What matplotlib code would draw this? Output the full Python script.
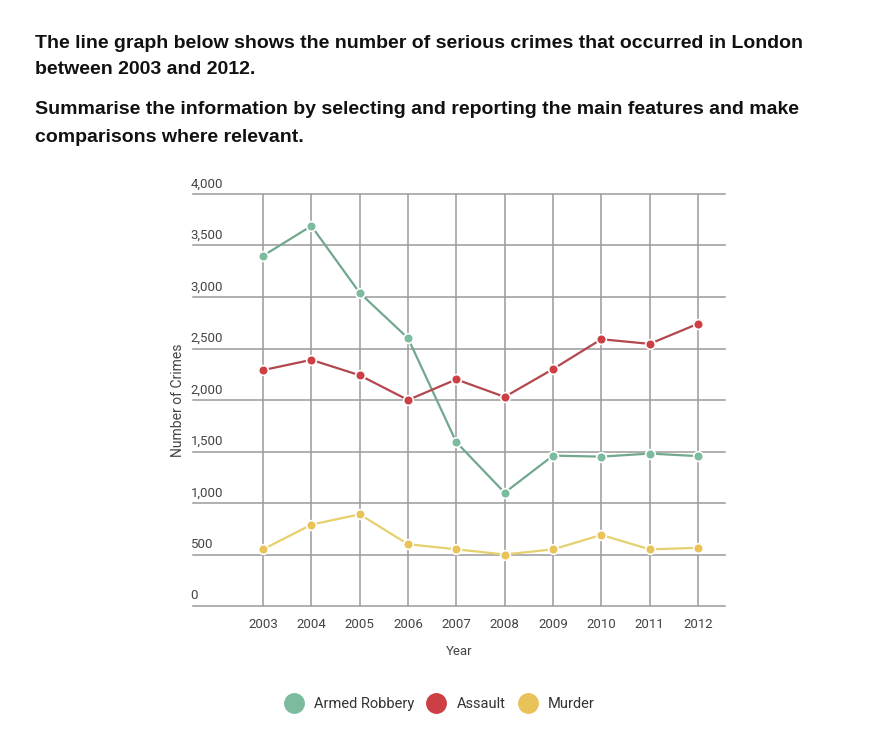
import matplotlib.pyplot as plt
from matplotlib.lines import Line2D

years = [2003, 2004, 2005, 2006, 2007, 2008, 2009, 2010, 2011, 2012]
armed_robbery = [3400, 3690, 3040, 2600, 1590, 1100, 1460, 1450, 1480, 1455]
assault = [2290, 2390, 2240, 2000, 2200, 2030, 2300, 2590, 2545, 2740]
murder = [550, 790, 890, 600, 550, 500, 550, 690, 550, 565]
y_ticks = [0, 500, 1000, 1500, 2000, 2500, 3000, 3500, 4000]

series = [("Armed Robbery", armed_robbery, "#72a88d", "#7dbb9e"),
          ("Assault", assault, "#b2474d", "#cc3f44"),
          ("Murder", murder, "#e5d06e", "#eac25a")]

plt.rcParams['font.family'] = 'Roboto'

fig = plt.figure(figsize=(8.74, 7.37), dpi=100)
ax = fig.add_axes([193 / 874, 1 - 606 / 737, 532 / 874, 412 / 737])

for name, vals, lc, mc in series:
    ax.plot(years, vals, color=lc, lw=1.6, zorder=3)
    ax.plot(years, vals, ls="none", marker="o", ms=7, mfc=mc,
            mec="white", mew=1.2, zorder=4)

x0 = 2003 - 70 / 48.3
ax.set_xlim(x0, 2012 + 27 / 48.3)
ax.set_ylim(0, 4000)

# horizontal grid across the full width, verticals only at the years
for v in y_ticks:
    ax.axhline(v, color="#9a9a9a", lw=1.1, zorder=1, clip_on=False)
    ax.text(x0 - 0.05, v + 35, f"{v:,}", fontsize=9.5,
            color="#444444", ha="left", va="bottom")
for yr in years:
    ax.axvline(yr, color="#9a9a9a", lw=1.1, zorder=1)

for s in ax.spines.values():
    s.set_visible(False)
ax.set_yticks([])
ax.set_xticks(years)
ax.set_xticklabels([str(y) for y in years], fontsize=9.5, color="#444444")
ax.tick_params(axis="x", length=0, pad=9)

ax.set_xlabel("Year", fontsize=9.5, color="#444444", labelpad=10)
fig.text(178 / 874, 1 - 400 / 737, "Number of Crimes", rotation=90,
         fontsize=10, color="#444444", ha="center", va="center")

title_kw = dict(fontsize=14, fontweight="bold", family="Liberation Sans",
                color="#111111", ha="left", va="center")
fig.text(35 / 874, 1 - 43 / 737,
         "The line graph below shows the number of serious crimes that occurred in London",
         **title_kw)
fig.text(35 / 874, 1 - 70 / 737, "between 2003 and 2012.", **title_kw)
fig.text(35 / 874, 1 - 110 / 737,
         "Summarise the information by selecting and reporting the main features and make",
         **title_kw)
fig.text(35 / 874, 1 - 137 / 737, "comparisons where relevant.", **title_kw)

handles = [Line2D([], [], ls="none", marker="o", ms=14, mfc=mc, mec=mc)
           for _, _, _, mc in series]
fig.legend(handles, [s[0] for s in series], loc="center",
           bbox_to_anchor=(437 / 874, 1 - 704 / 737), ncol=3, frameon=False,
           fontsize=10.5, handletextpad=0.4, columnspacing=0.5,
           labelcolor="#333333")

plt.savefig("out.png")
